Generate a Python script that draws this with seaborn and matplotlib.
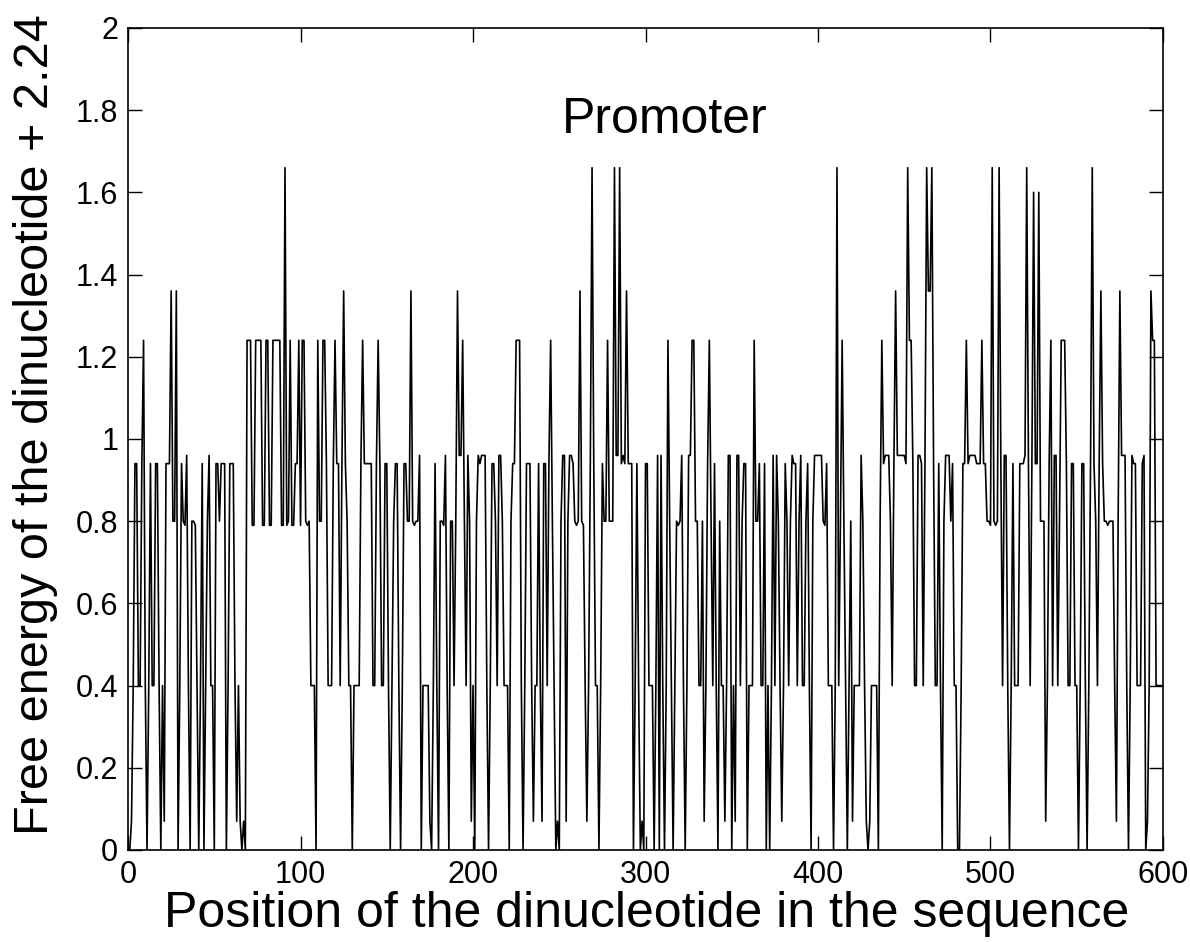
import numpy as np
import pandas as pd
import matplotlib
matplotlib.use('Agg')
import matplotlib.pyplot as plt
import seaborn as sns

# free energy (+2.24) of each dinucleotide in blocks of 100
energy_001_100 = [
    0, 0.07, 0.40, 0.94, 0.94, 0.40, 0.40, 0.94, 1.24, 0.40,
    0, 0.40, 0.94, 0.40, 0.40, 0.94, 0.94, 0.40, 0, 0.40,
    0.07, 0.94, 0.94, 0.94, 1.36, 0.80, 0.80, 1.36, 0, 0.40,
    0.94, 0.80, 0.79, 0.96, 0.40, 0, 0.80, 0.80, 0.79, 0.40,
    0, 0.40, 0.94, 0, 0.40, 0.80, 0.96, 0.40, 0.40, 0,
    0.94, 0.94, 0.80, 0.94, 0.94, 0.94, 0, 0.40, 0.94, 0.94,
    0.94, 0.40, 0.07, 0.40, 0.07, 0, 0.07, 0, 1.24, 1.24,
    1.24, 0.79, 0.79, 1.24, 1.24, 1.24, 1.24, 0.79, 0.79, 1.24,
    1.24, 0.79, 0.79, 1.24, 1.24, 1.24, 1.24, 1.24, 0.79, 0.79,
    1.66, 0.79, 0.80, 1.24, 0.79, 0.79, 0.94, 0.94, 1.24, 0.79,
]
energy_101_200 = [
    1.24, 1.24, 0.80, 0.79, 0.80, 0.40, 0.40, 0.40, 0, 1.24,
    0.80, 0.80, 1.24, 1.24, 0.94, 0.40, 0.40, 0.40, 0.94, 1.24,
    0.94, 0.94, 0.40, 0.94, 1.36, 0.94, 0.80, 0.40, 0.40, 0,
    0.40, 0.40, 0.40, 0.40, 0.94, 1.24, 0.94, 0.94, 0.94, 0.94,
    0.94, 0.40, 0.40, 0.94, 1.24, 0.94, 0.40, 0.40, 0.94, 0.94,
    0.40, 0, 0.40, 0.80, 0.94, 0.94, 0.40, 0, 0.40, 0.94,
    0.94, 0.80, 0.80, 1.36, 0.80, 0.79, 0.80, 0.80, 0.96, 0,
    0.40, 0.40, 0.40, 0.40, 0.07, 0, 0.40, 0.94, 0.40, 0,
    0.80, 0.80, 0.79, 0.96, 0.40, 0, 0.80, 0.80, 0.40, 0.80,
    1.36, 0.96, 0.96, 1.24, 0.80, 0.40, 0.96, 0.80, 0.07, 0.40,
]
energy_201_300 = [
    0, 0.80, 0.96, 0.94, 0.96, 0.96, 0.96, 0.40, 0, 0.40,
    0.94, 0.94, 0.80, 0.40, 0.96, 0.96, 0.80, 0.40, 0.40, 0.40,
    0, 0.80, 0.94, 0.94, 1.24, 1.24, 1.24, 0.40, 0, 0.40,
    0.94, 0.94, 0.94, 0.40, 0.07, 0.40, 0.40, 0.94, 0.40, 0.07,
    0.94, 0.94, 0.40, 0.94, 1.24, 0.80, 0.40, 0, 0.07, 0,
    0.80, 0.96, 0.96, 0.07, 0.80, 0.96, 0.96, 0.94, 0.80, 0.79,
    0.80, 1.36, 0.80, 0.79, 0.40, 0.07, 0.40, 0.94, 1.66, 0.94,
    0.40, 0.40, 0, 0.40, 0.94, 0.80, 0.80, 1.24, 0.80, 0.80,
    0.80, 1.66, 0.96, 0.96, 1.66, 0.94, 0.96, 0.94, 1.36, 0.94,
    0.94, 0.94, 0, 0.40, 0.94, 0.40, 0, 0.07, 0, 0.94,
]
energy_301_400 = [
    0.94, 0.40, 0.40, 0.40, 0, 0.40, 0.96, 0, 0.96, 0.40,
    0, 0.40, 1.24, 0.80, 0.40, 0, 0.40, 0.80, 0.79, 0.80,
    0.96, 0.40, 0, 0.40, 0.96, 0.96, 1.24, 1.24, 0.80, 0.80,
    0.40, 0.40, 0.80, 0.07, 0.40, 0.94, 1.24, 0.80, 0.40, 0.94,
    0.40, 0, 0.80, 0.40, 0.40, 0.07, 0.40, 0.96, 0.96, 0,
    0.40, 0.07, 0.96, 0.96, 0.40, 0.80, 0.94, 0.94, 0, 0.40,
    0.40, 0.40, 1.24, 0.80, 0.80, 0.94, 0.40, 0.40, 0.94, 0,
    0.40, 0, 0.40, 0.96, 0.40, 0.96, 0.80, 0.40, 0.07, 0.40,
    0.94, 0.80, 0.40, 0.80, 0.96, 0.94, 0.94, 0.40, 0.80, 0.96,
    0.40, 0.40, 0.80, 0.94, 0.40, 0, 0.80, 0.96, 0.96, 0.96,
]
energy_401_500 = [
    0.96, 0.96, 0.80, 0.79, 0.94, 0.40, 0.40, 0.40, 0, 0.40,
    1.66, 0.40, 0.80, 1.24, 0.80, 0.40, 0, 0.40, 0.80, 0.07,
    0.40, 0.40, 0.40, 0.40, 0.96, 0.80, 0.40, 0.07, 0, 0.07,
    0.40, 0.40, 0.40, 0.40, 0, 0.80, 1.24, 0.94, 0.96, 0.96,
    0.96, 0.80, 0.40, 0.94, 1.36, 0.96, 0.96, 0.96, 0.96, 0.96,
    0.94, 1.66, 1.24, 1.24, 0.94, 0.40, 0.40, 0.96, 0.96, 0.94,
    0.40, 0.94, 1.66, 1.36, 1.36, 1.66, 0.94, 0.40, 0.40, 0.94,
    0.40, 0, 0.80, 0.96, 0.96, 0.96, 0.80, 0.94, 0.40, 0.40,
    0, 0, 0.40, 0.94, 0.94, 1.24, 0.94, 0.96, 0.96, 0.96,
    0.96, 0.94, 0.94, 0.94, 1.24, 0.94, 0.94, 0.80, 0.80, 0.79,
]
energy_501_600 = [
    1.66, 0.80, 0.79, 0.80, 1.66, 0.94, 0.40, 0.96, 0.96, 0.40,
    0, 0.40, 0.94, 0.40, 0.40, 0.40, 0.94, 0.94, 0.94, 0.96,
    1.66, 0.94, 0.40, 0.94, 1.60, 0.94, 0.94, 1.60, 0.80, 0.80,
    0.80, 0.07, 0.40, 0.94, 1.24, 0.40, 0.96, 0.96, 0.40, 0.80,
    1.24, 1.24, 1.24, 0.94, 0.40, 0.40, 0.94, 0.94, 0.40, 0.40,
    0, 0.40, 0.94, 0.94, 0.40, 0, 0.40, 0.94, 1.66, 0.94,
    0.80, 0.40, 0.94, 1.36, 0.94, 0.80, 0.80, 0.79, 0.80, 0.80,
    0.80, 0.40, 0.07, 0.80, 1.36, 0.96, 0.96, 0.96, 0.40, 0,
    0.40, 0.96, 0.94, 0.94, 0.40, 0.40, 0.40, 0.94, 0.96, 0,
    0.07, 0.40, 1.36, 1.24, 1.24, 0.40, 0.40, 0.40, 0.40, 0.40,
]

ytick_vals = [0, 0.2, 0.4, 0.6, 0.8, 1, 1.2, 1.4, 1.6, 1.8, 2]
ytick_labels = ['0', '0.2', '0.4', '0.6', '0.8', '1', '1.2', '1.4', '1.6', '1.8', '2']
xtick_vals = [0, 100, 200, 300, 400, 500, 600]

energy = np.concatenate([energy_001_100, energy_101_200, energy_201_300,
                         energy_301_400, energy_401_500, energy_501_600])
df = pd.DataFrame({'position': np.arange(1, len(energy) + 1), 'energy': energy})

sns.set_style('ticks')
plt.rcParams['font.family'] = ['Liberation Sans', 'DejaVu Sans']
plt.rcParams['text.color'] = 'black'
plt.rcParams['axes.labelcolor'] = 'black'

fig = plt.figure(figsize=(11.9, 9.42), dpi=100)
ax = fig.add_axes([0.1076, 0.0977, 0.8697, 0.8726])

sns.lineplot(data=df, x='position', y='energy', ax=ax, color='black',
             linewidth=1.2, estimator=None)

ax.set_xlim(0, 600)
ax.set_ylim(0, 2)
ax.set_xticks(xtick_vals)
ax.set_xticklabels([str(v) for v in xtick_vals])
ax.set_yticks(ytick_vals)
ax.set_yticklabels(ytick_labels)
ax.tick_params(direction='in', length=10, width=1, labelsize=22, top=True, right=True,
               colors='black', pad=7)
for s in ax.spines.values():
    s.set_linewidth(1.2)
    s.set_color('black')

ax.set_xlabel('Position of the dinucleotide in the sequence', fontsize=36)
ax.xaxis.set_label_coords(0.501, -0.05)
ax.set_ylabel('Free energy of the dinucleotide + 2.24', fontsize=35)
ax.yaxis.set_label_coords(-0.089, 0.517)
ax.yaxis.label.set_va('center')
ax.text(311, 1.775, 'Promoter', fontsize=36, ha='center', va='center')

fig.savefig('out.png', dpi=100)
